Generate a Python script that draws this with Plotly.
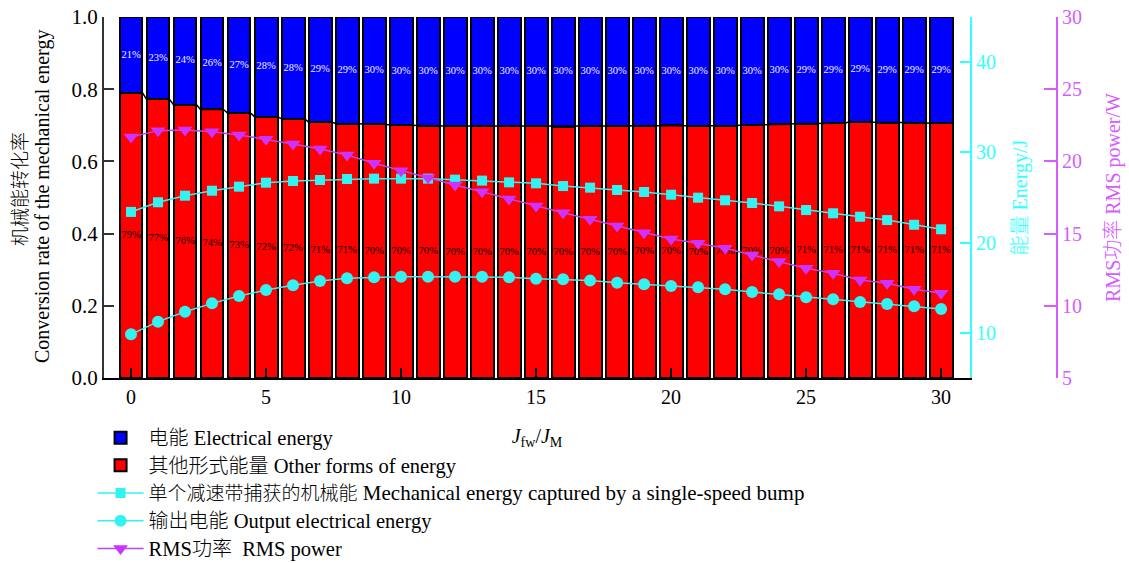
import numpy as np
import plotly.graph_objects as go

# ---------------- data ----------------
ratio = list(range(31))  # J_fw / J_M

other_share = [0.790, 0.772, 0.757, 0.744, 0.734, 0.724, 0.718, 0.709, 0.705, 0.703,
               0.701, 0.699, 0.698, 0.697, 0.697, 0.698, 0.696, 0.697, 0.698, 0.699,
               0.700, 0.698, 0.699, 0.701, 0.703, 0.705, 0.706, 0.709, 0.707, 0.707, 0.706]
elec_share = [0.210, 0.228, 0.243, 0.256, 0.266, 0.276, 0.282, 0.291, 0.295, 0.297,
              0.299, 0.301, 0.302, 0.303, 0.303, 0.302, 0.304, 0.303, 0.302, 0.301,
              0.300, 0.302, 0.301, 0.299, 0.297, 0.295, 0.294, 0.291, 0.293, 0.293, 0.294]

elec_labels = ["21%", "23%", "24%", "26%", "27%", "28%", "28%", "29%", "29%", "30%",
               "30%", "30%", "30%", "30%", "30%", "30%", "30%", "30%", "30%", "30%",
               "30%", "30%", "30%", "30%", "30%", "29%", "29%", "29%", "29%", "29%", "29%"]
other_labels = ["79%", "77%", "76%", "74%", "73%", "72%", "72%", "71%", "71%", "70%",
                "70%", "70%", "70%", "70%", "70%", "70%", "70%", "70%", "70%", "70%",
                "70%", "70%", "70%", "70%", "70%", "71%", "71%", "71%", "71%", "71%", "71%"]

mech_energy = [23.40, 24.47, 25.20, 25.75, 26.20, 26.64, 26.83, 26.94, 27.05, 27.09,
               27.09, 27.09, 26.98, 26.87, 26.68, 26.57, 26.27, 26.09, 25.83, 25.61,
               25.31, 24.98, 24.69, 24.39, 24.02, 23.61, 23.25, 22.87, 22.50, 21.98, 21.48]
out_energy = [9.84, 11.24, 12.35, 13.27, 14.09, 14.75, 15.27, 15.75, 16.04, 16.15,
              16.23, 16.23, 16.23, 16.23, 16.15, 16.00, 15.93, 15.79, 15.56, 15.38,
              15.19, 15.05, 14.83, 14.53, 14.27, 13.94, 13.72, 13.42, 13.20, 12.94, 12.65]
rms_power = [21.69, 22.13, 22.17, 22.06, 21.83, 21.53, 21.20, 20.86, 20.44, 19.87,
             19.36, 18.87, 18.37, 17.90, 17.40, 16.91, 16.45, 15.99, 15.53, 15.06,
             14.63, 14.33, 13.98, 13.52, 13.06, 12.60, 12.25, 11.79, 11.56, 11.14, 10.87]

# ---------------- style ----------------
SERIF = 'Liberation Serif, "Noto Sans CJK SC", serif'
CJK_FONT = '"Noto Sans CJK SC", sans-serif'
BLUE = "#0000FF"
RED = "#FF0000"
CYAN = "#33F2F2"
CYAN_AX = "#33FFFF"
MAG = "#CC33FF"
MAG_AX = "#D65CFF"
BAR_W = 0.85


def cjk(s, size=20):
    return (f'<span style="font-family:\'Noto Sans CJK SC\';font-weight:300;'
            f'font-size:{size}px">{s}</span>')


def en(s, size=20.5):
    return f'<span style="font-size:{size}px">{s}</span>'


x = np.array(ratio, dtype=float)
oth = np.array(other_share)
ele = np.array(elec_share)

fig = go.Figure()

fig.add_trace(go.Bar(
    x=x, y=ele, base=oth, width=BAR_W,
    marker=dict(color=BLUE, line=dict(color="black", width=2)),
    name=cjk("电能") + en(" Electrical energy"), legendrank=1))
fig.add_trace(go.Bar(
    x=x, y=oth, width=BAR_W,
    marker=dict(color=RED, line=dict(color="black", width=2)),
    name=cjk("其他形式能量") + en(" Other forms of energy"), legendrank=2))

# connector line at the blue/red boundary
cx = np.column_stack([x - BAR_W / 2, x + BAR_W / 2]).ravel()
cy = np.repeat(oth, 2)
fig.add_trace(go.Scatter(x=cx, y=cy, mode="lines",
                         line=dict(color="black", width=1.5),
                         showlegend=False, hoverinfo="skip"))

# percentage labels
fig.add_trace(go.Scatter(x=x, y=oth + ele / 2, mode="text", text=elec_labels,
                         textfont=dict(family=SERIF, size=10.5, color="#F4F0FF"),
                         showlegend=False, hoverinfo="skip"))
fig.add_trace(go.Scatter(x=x, y=oth / 2, mode="text", text=other_labels,
                         textfont=dict(family=SERIF, size=10.5, color="black"),
                         showlegend=False, hoverinfo="skip"))

fig.add_trace(go.Scatter(
    x=x, y=mech_energy, yaxis="y2", mode="lines+markers",
    line=dict(color=CYAN, width=1.5),
    marker=dict(symbol="square", size=10, color=CYAN),
    name=cjk("单个减速带捕获的机械能", 19) + en(" Mechanical energy captured by a single-speed bump", 21),
    legendrank=3))
fig.add_trace(go.Scatter(
    x=x, y=out_energy, yaxis="y2", mode="lines+markers",
    line=dict(color=CYAN, width=1.5),
    marker=dict(symbol="circle", size=12, color=CYAN),
    name=cjk("输出电能") + en(" Output electrical energy"), legendrank=4))
fig.add_trace(go.Scatter(
    x=x, y=rms_power, yaxis="y3", mode="lines+markers",
    line=dict(color="#B847E8", width=1.5),
    marker=dict(symbol="triangle-down", size=13, color=MAG),
    name=en("RMS") + cjk("功率") + en("  RMS power"), legendrank=5))

W, H = 1129, 563
L, R, T, B = 104, 72, 17, 185
plot_w = W - L - R
plot_h = H - T - B
x_end = (970 - L) / plot_w

# left axis title (two centred lines)
fig.add_annotation(xref="paper", yref="paper", x=(18 - L) / plot_w,
                   y=(H - B - 189) / plot_h, text="机械能转化率",
                   textangle=-90, showarrow=False, xanchor="center", yanchor="middle",
                   font=dict(family=CJK_FONT, size=19, color="black", weight=300))
fig.add_annotation(xref="paper", yref="paper", x=(42 - L) / plot_w,
                   y=(H - B - 197) / plot_h,
                   text="Conversion rate of the mechanical energy",
                   textangle=-90, showarrow=False, xanchor="center", yanchor="middle",
                   font=dict(family=SERIF, size=20, color="black"))

fig.update_layout(
    width=W, height=H,
    margin=dict(l=L, r=R, t=T, b=B, pad=0, autoexpand=False),
    paper_bgcolor="white", plot_bgcolor="white",
    barmode="overlay", bargap=0,
    font=dict(family=SERIF, size=20, color="black"),
    showlegend=True,
    legend=dict(x=-0.012, y=-0.113, xanchor="left", yanchor="top",
                traceorder="normal", bgcolor="rgba(0,0,0,0)",
                font=dict(family=SERIF, size=19, color="black"),
                tracegroupgap=0, itemwidth=46),
    xaxis=dict(domain=[0, x_end], range=[-1, 31.07], automargin=False,
               tickmode="array", tickvals=[0, 5, 10, 15, 20, 25, 30],
               ticks="inside", ticklen=10, tickwidth=1.5, tickcolor="black",
               showline=True, linecolor="black", linewidth=2,
               showgrid=False, zeroline=False,
               tickfont=dict(family=SERIF, size=20, color="black"),
               title=dict(text="<i>J</i><sub>fw</sub>/<i>J</i><sub>M</sub>",
                          font=dict(family=SERIF, size=20, color="black"),
                          standoff=22)),
    yaxis=dict(range=[0, 1], tickmode="array", automargin=False,
               tickvals=[0, 0.2, 0.4, 0.6, 0.8, 1.0], tickformat=".1f",
               ticks="inside", ticklen=10, tickwidth=1.5, tickcolor="#333333",
               showline=True, linecolor="#333333", linewidth=2,
               showgrid=False, zeroline=False,
               tickfont=dict(family=SERIF, size=21, color="black")),
    yaxis2=dict(overlaying="y", side="right", anchor="x", range=[5, 45], automargin=False,
                tickmode="array", tickvals=[10, 20, 30, 40],
                ticks="inside", ticklen=10, tickwidth=1.5, tickcolor=CYAN_AX,
                showline=True, linecolor=CYAN_AX, linewidth=2,
                showgrid=False, zeroline=False,
                tickfont=dict(family=SERIF, size=20, color=CYAN_AX),
                title=dict(text=cjk("能量", 20) + " Energy/J",
                           font=dict(family=SERIF, size=20, color=CYAN_AX),
                           standoff=18)),
    yaxis3=dict(overlaying="y", side="right", anchor="free", position=1.0,
                automargin=False,
                range=[5, 30], tickmode="array", tickvals=[5, 10, 15, 20, 25, 30],
                ticks="inside", ticklen=12, tickwidth=1.5, tickcolor=MAG_AX,
                showline=True, linecolor=MAG_AX, linewidth=2,
                showgrid=False, zeroline=False,
                tickfont=dict(family=SERIF, size=20, color=MAG_AX),
                title=dict(text="RMS" + cjk("功率", 20) + " RMS power/W",
                           font=dict(family=SERIF, size=20, color=MAG_AX),
                           standoff=24)),
)

fig.write_html("out.html")
